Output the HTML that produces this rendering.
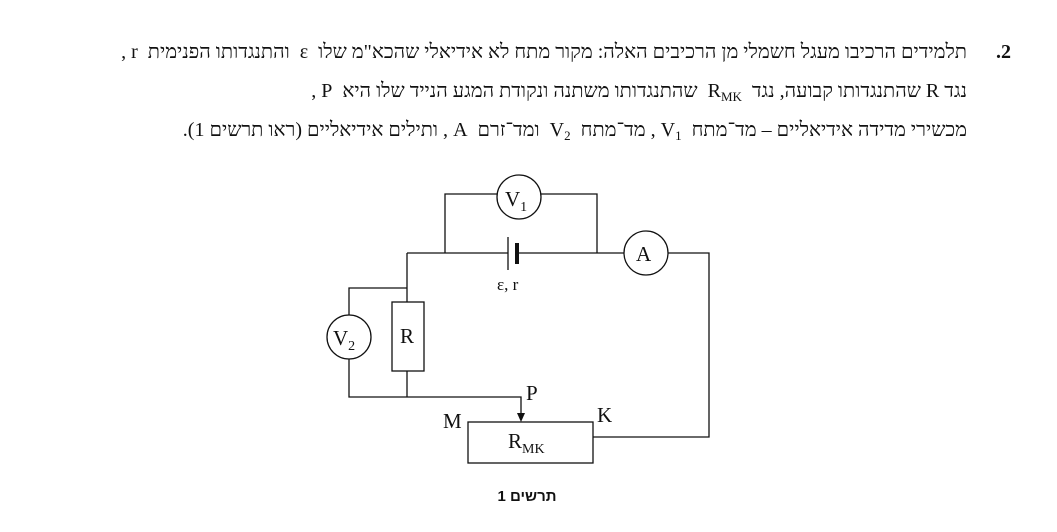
<!DOCTYPE html>
<html><head><meta charset="utf-8"><style>
html,body{margin:0;padding:0;background:#fff;}
body{width:1057px;height:532px;position:relative;overflow:hidden;font-family:"Liberation Serif","DejaVu Serif",serif;color:#111;}
.l{position:absolute;right:90px;direction:rtl;font-size:20px;white-space:nowrap;line-height:22px;}
.num{position:absolute;left:996px;top:41px;font-weight:bold;font-size:20px;}
sub{font-size:13px;vertical-align:-4px;}
.big{font-size:20px;}
</style></head><body>
<div class="num">.2</div>
<div class="l" style="top:41px">תלמידים הרכיבו מעגל חשמלי מן הרכיבים האלה: מקור מתח לא אידיאלי שהכא"מ שלו &nbsp;ε&nbsp; והתנגדותו הפנימית &nbsp;r ,</div>
<div class="l" style="top:80px">נגד <span class="big">R</span> שהתנגדותו קבועה, נגד &nbsp;<span class="big">R</span><sub>MK</sub>&nbsp; שהתנגדותו משתנה ונקודת המגע הנייד שלו היא &nbsp;<span class="big">P</span> ,</div>
<div class="l" style="top:119px">מכשירי מדידה אידיאליים – מד־מתח &nbsp;<span class="big">V</span><sub>1</sub> , מד־מתח &nbsp;<span class="big">V</span><sub>2</sub>&nbsp; ומד־זרם &nbsp;<span class="big">A</span> , ותילים אידיאליים (ראו תרשים 1).</div>
<svg width="1057" height="532" style="position:absolute;left:0;top:0" font-family="Liberation Serif, serif">
<g stroke="#111" stroke-width="1.3" fill="none">
<polyline points="445,253 445,194 497,194"/>
<polyline points="541,194 597,194 597,253"/>
<line x1="407" y1="253" x2="508" y2="253"/>
<line x1="517" y1="253" x2="624" y2="253"/>
<polyline points="668,253 709,253 709,437 593,437"/>
<line x1="407" y1="253" x2="407" y2="302"/>
<polyline points="407,288 349,288 349,315"/>
<polyline points="349,359 349,397 521,397 521,414"/>
<line x1="407" y1="371" x2="407" y2="397"/>
<rect x="392" y="302" width="32" height="69" fill="#fff"/>
<rect x="468" y="422" width="125" height="41" fill="#fff"/>
<circle cx="519" cy="197" r="22" fill="#fff"/>
<circle cx="646" cy="253" r="22" fill="#fff"/>
<circle cx="349" cy="337" r="22" fill="#fff"/>
<line x1="508" y1="237" x2="508" y2="270"/>
</g>
<line x1="517" y1="243" x2="517" y2="264" stroke="#111" stroke-width="4"/>
<polygon points="517,413 525,413 521,422" fill="#111"/>
<g fill="#111" font-size="21">
<text x="505" y="206">V<tspan font-size="14" dy="5">1</tspan></text>
<text x="636" y="261">A</text>
<text x="333" y="345">V<tspan font-size="14" dy="5">2</tspan></text>
<text x="400" y="343">R</text>
<text x="508" y="448">R<tspan font-size="14" dy="5">MK</tspan></text>
<text x="526" y="400">P</text>
<text x="443" y="428">M</text>
<text x="597" y="422">K</text>
<text x="497" y="290" font-size="17">ε, r</text>
<text x="527" y="501" font-size="15" font-weight="bold" font-family="Liberation Sans, DejaVu Sans, sans-serif" text-anchor="middle" direction="rtl">תרשים 1</text>
</g>
</svg>
</body></html>
